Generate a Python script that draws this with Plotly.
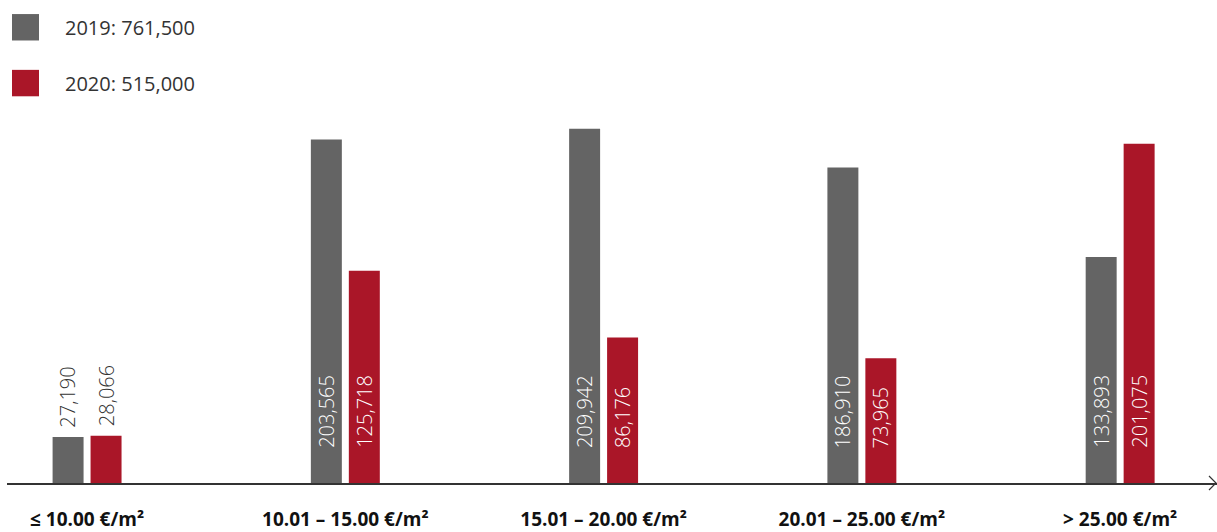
import plotly.graph_objects as go

# Rent bands and letting volumes (m²)
categories = ["≤ 10.00 €/m²", "10.01 – 15.00 €/m²", "15.01 – 20.00 €/m²",
              "20.01 – 25.00 €/m²", "> 25.00 €/m²"]
years = ["2019", "2020"]
values_2019 = [27190, 203565, 209942, 186910, 133893]
values_2020 = [28066, 125718, 86176, 73965, 201075]

colors = {"2019": "#646464", "2020": "#AA1628"}
series = {"2019": values_2019, "2020": values_2020}

FONT = "Open Sans"
W, H = 1217, 532
M_L, M_R, M_T, M_B = 7, 0, 110, 41
plot_w = W - M_L - M_R
plot_h = H - M_T - M_B

fig = go.Figure()
for yr in years:
    fig.add_trace(go.Bar(
        x=categories, y=series[yr], name=yr,
        marker=dict(color=colors[yr], line=dict(width=0)),
        hoverinfo="x+y",
    ))

# Value labels: rotated, inside the bar near its base, or above short bars
shift = {"2019": -19, "2020": 19}
annotations = []
for yr in years:
    for cat, v in zip(categories, series[yr]):
        label = f"{v:,}"
        if v < 50000:
            annotations.append(dict(
                x=cat, y=v, xref="x", yref="y", text=label, showarrow=False,
                textangle=-90, xanchor="center", yanchor="bottom",
                xshift=shift[yr], yshift=7,
                font=dict(family=FONT, size=20, color="#333333", weight=300)))
        else:
            annotations.append(dict(
                x=cat, y=0, xref="x", yref="y", text=label, showarrow=False,
                textangle=-90, xanchor="center", yanchor="bottom",
                xshift=shift[yr], yshift=33,
                font=dict(family=FONT, size=20, color="#FFFFFF", weight=300)))

# Legend: large square swatches with yearly totals
def px_x(p):
    return (p - M_L) / plot_w

def px_y(p):
    return (H - M_B - p) / plot_h

shapes = []
legend_rows = [(12, 39), (69, 96)]
for yr, (top, bottom) in zip(years, legend_rows):
    total = sum(series[yr])
    shapes.append(dict(type="rect", xref="paper", yref="paper",
                       x0=px_x(12), x1=px_x(39), y0=px_y(bottom), y1=px_y(top),
                       fillcolor=colors[yr], line=dict(width=0)))
    annotations.append(dict(
        x=px_x(63), y=px_y((top + bottom) / 2), xref="paper", yref="paper",
        text=f"{yr}: {total:,}", showarrow=False, xanchor="left", yanchor="middle",
        font=dict(family=FONT, size=20, color="#333333")))

# Arrow head at the right end of the x axis
shapes.append(dict(type="path", xref="paper", yref="paper",
                   xsizemode="pixel", ysizemode="pixel", xanchor=1, yanchor=0,
                   path="M -8,-7 L -1,0 L -8,7",
                   line=dict(color="#333333", width=1.2)))

fig.update_layout(
    width=W, height=H,
    margin=dict(l=M_L, r=M_R, t=M_T, b=M_B),
    paper_bgcolor="white", plot_bgcolor="white",
    barmode="group", bargap=0.706, bargroupgap=0.184,
    showlegend=False,
    font=dict(family=FONT, color="#222222"),
    xaxis=dict(
        range=[-0.31, 4.375], showgrid=False, zeroline=False,
        showline=True, linecolor="#333333", linewidth=1.5,
        ticks="", ticklabelstandoff=18,
        tickfont=dict(family=FONT, size=19, color="#111111", weight="bold"),
        fixedrange=True),
    yaxis=dict(range=[0, 221000], visible=False, fixedrange=True),
    annotations=annotations,
    shapes=shapes,
)

fig.write_html("out.html")
